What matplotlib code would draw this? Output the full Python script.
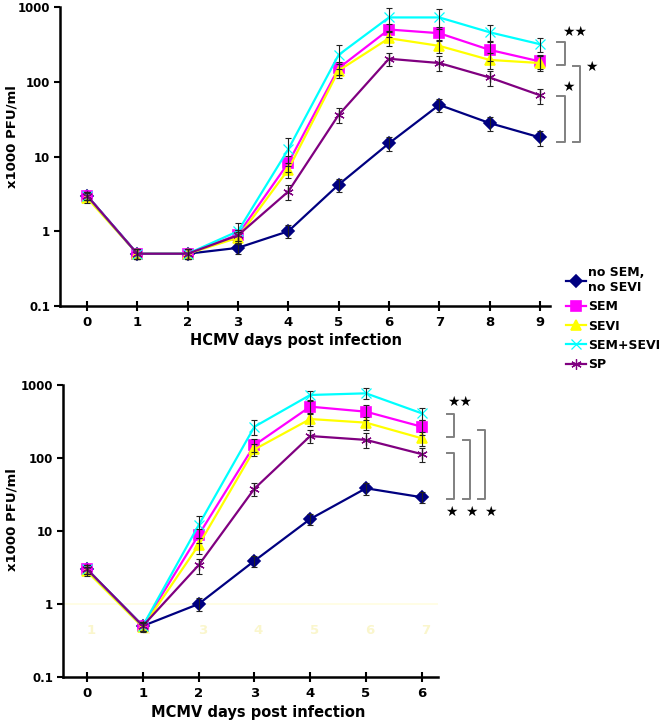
import matplotlib
matplotlib.use('Agg')
import matplotlib.pyplot as plt
from matplotlib.lines import Line2D

plt.rcParams['font.family'] = ['DejaVu Sans']
plt.rcParams['font.weight'] = 'bold'

# ---------------- data ----------------
series_names = ["no SEM,\nno SEVI", "SEM", "SEVI", "SEM+SEVI", "SP"]
colors = ['#000080', '#FF00FF', '#FFFF00', '#00FFFF', '#800080']
markers = ['D', 's', '^', 'x', (6, 2, 0)]
marker_sizes = [6, 6.5, 7.5, 6.5, 7.5]
marker_edge_widths = [1.2, 1.2, 1.2, 0.9, 0.9]

hcmv_days = [0, 1, 2, 3, 4, 5, 6, 7, 8, 9]
hcmv_no = [3.0, 0.5, 0.5, 0.6, 1.0, 4.2, 15, 49, 28, 18]
hcmv_sem = [3.0, 0.5, 0.5, 0.9, 8.2, 152, 500, 446, 267, 187]
hcmv_sevi = [2.8, 0.5, 0.5, 0.82, 6.7, 141, 382, 302, 196, 178]
hcmv_semsevi = [3.0, 0.5, 0.5, 1.0, 12.5, 229, 725, 725, 459, 318]
hcmv_sp = [3.0, 0.5, 0.5, 0.88, 3.4, 36, 203, 178, 114, 66]

hcmv_no_err = [0.4, 0.07, 0.07, 0.1, 0.2, 0.8, 3, 10, 6, 4]
hcmv_sem_err = [0.4, 0.07, 0.07, 0.15, 2, 30, 100, 100, 80, 40]
hcmv_sevi_err = [0.4, 0.07, 0.07, 0.15, 1.5, 30, 80, 60, 50, 40]
hcmv_semsevi_err = [0.4, 0.07, 0.07, 0.3, 5, 80, 250, 210, 120, 70]
hcmv_sp_err = [0.4, 0.07, 0.07, 0.15, 0.8, 8, 40, 40, 25, 15]

mcmv_days = [0, 1, 2, 3, 4, 5, 6]
mcmv_no = [3.0, 0.5, 1.0, 3.9, 14.6, 38.5, 29]
mcmv_sem = [3.0, 0.5, 8.8, 150, 505, 431, 268]
mcmv_sevi = [2.8, 0.48, 6.4, 131, 342, 305, 186]
mcmv_semsevi = [3.0, 0.5, 12, 268, 730, 769, 409]
mcmv_sp = [3.0, 0.5, 3.4, 38, 200, 177, 113]

mcmv_no_err = [0.4, 0.07, 0.2, 0.7, 2.5, 7, 5]
mcmv_sem_err = [0.4, 0.07, 2, 30, 100, 100, 60]
mcmv_sevi_err = [0.4, 0.07, 1.5, 25, 70, 60, 40]
mcmv_semsevi_err = [0.4, 0.07, 4, 60, 105, 130, 80]
mcmv_sp_err = [0.4, 0.07, 0.8, 8, 40, 40, 25]

y_ticks = [0.1, 1, 10, 100, 1000]
y_tick_labels = ['0.1', '1', '10', '100', '1000']
ylabel_text = 'x1000 PFU/ml'
hcmv_xlabel = 'HCMV days post infection'
mcmv_xlabel = 'MCMV days post infection'
ghost_labels = ['1', '2', '3', '4', '5', '6', '7']

W, H = 666, 725
fig = plt.figure(figsize=(W / 100, H / 100), dpi=100)


def px_axes(left, right, top, bottom):
    return fig.add_axes([left / W, 1 - bottom / H, (right - left) / W, (bottom - top) / H])


def style_axes(ax, days, xlim):
    ax.set_yscale('log')
    ax.set_ylim(0.1, 1000)
    ax.set_xlim(*xlim)
    ax.set_yticks(y_ticks)
    ax.set_yticklabels(y_tick_labels, fontsize=8.5, fontweight='bold')
    ax.minorticks_off()
    ax.set_xticks(days)
    ax.set_xticklabels([str(d) for d in days], fontsize=9.5, fontweight='bold')
    ax.tick_params(axis='x', direction='inout', length=7, width=1.5, pad=4)
    ax.tick_params(axis='y', direction='out', length=4, width=1.5, pad=3)
    for s in ['top', 'right']:
        ax.spines[s].set_visible(False)
    for s in ['left', 'bottom']:
        ax.spines[s].set_linewidth(1.8)
    ax.patch.set_alpha(0)


def draw_series(ax, days, vals, errs):
    for v, e, c, m, ms, mew in zip(vals, errs, colors, markers, marker_sizes,
                                   marker_edge_widths):
        ax.plot(days, v, color=c, marker=m, markersize=ms, linewidth=1.6,
                markeredgecolor=c, markeredgewidth=mew, zorder=2)
        ax.errorbar(days, v, yerr=e, fmt='none', ecolor='#222222',
                    elinewidth=0.8, capsize=2.5, capthick=0.8, zorder=3)


def bracket(ax, xv, xt, y1, y2):
    ax.plot([xt, xv, xv, xt], [y1, y1, y2, y2], color='#808080',
            linewidth=1.4, clip_on=False, zorder=4)


# ---------------- top: HCMV ----------------
ax1 = px_axes(60, 550, 7, 306)
style_axes(ax1, hcmv_days, (-0.536, 9.2))
draw_series(ax1, hcmv_days,
            [hcmv_no, hcmv_sem, hcmv_sevi, hcmv_semsevi, hcmv_sp],
            [hcmv_no_err, hcmv_sem_err, hcmv_sevi_err, hcmv_semsevi_err, hcmv_sp_err])
bracket(ax1, 9.5, 9.34, 336, 166)
bracket(ax1, 9.5, 9.34, 64.5, 15.5)
bracket(ax1, 9.8, 9.66, 161, 15.5)
ax1.text(9.68, 465, '★★', fontsize=10, ha='center', va='center', clip_on=False)
ax1.text(9.56, 86, '★', fontsize=10, ha='center', va='center', clip_on=False)
ax1.text(10.03, 158, '★', fontsize=10, ha='center', va='center', clip_on=False)
fig.text(295.5 / W, 1 - 340 / H, hcmv_xlabel, fontsize=10.5, fontweight='bold',
         ha='center', va='center')
fig.text(12 / W, 1 - 137 / H, ylabel_text, fontsize=9.5, fontweight='bold',
         rotation=90, ha='center', va='center')

# ---------------- bottom: MCMV ----------------
ax2 = px_axes(63, 438, 385, 677)
style_axes(ax2, mcmv_days, (-0.43, 6.29))
# faint ghost artefacts visible in the reference
ax2.axhline(1, color='#FFFDE0', linewidth=1.2, zorder=0)
for i, g in enumerate(ghost_labels):
    ax2.text(i + 0.07, 0.44, g, color='#FAF6CC', fontsize=9.5, ha='center',
             va='center', zorder=0)
draw_series(ax2, mcmv_days,
            [mcmv_no, mcmv_sem, mcmv_sevi, mcmv_semsevi, mcmv_sp],
            [mcmv_no_err, mcmv_sem_err, mcmv_sevi_err, mcmv_semsevi_err, mcmv_sp_err])
bracket(ax2, 6.58, 6.45, 398, 192)
bracket(ax2, 6.58, 6.45, 116, 27.5)
bracket(ax2, 6.86, 6.73, 177, 27.5)
bracket(ax2, 7.13, 7.0, 241, 27.5)
ax2.text(6.67, 590, '★★', fontsize=10, ha='center', va='center', clip_on=False)
for xs in [6.53, 6.89, 7.23]:
    ax2.text(xs, 18.4, '★', fontsize=10, ha='center', va='center', clip_on=False)
fig.text(258 / W, 1 - 713 / H, mcmv_xlabel, fontsize=10.5, fontweight='bold',
         ha='center', va='center')
fig.text(12 / W, 1 - 520 / H, ylabel_text, fontsize=9.5, fontweight='bold',
         rotation=90, ha='center', va='center')

# ---------------- legend ----------------
handles = [Line2D([0], [0], color=c, marker=m, markersize=ms, linewidth=1.6,
                  markeredgecolor=c, markeredgewidth=mew)
           for c, m, ms, mew in zip(colors, markers, marker_sizes, marker_edge_widths)]
fig.legend(handles, series_names, loc='upper left',
           bbox_to_anchor=(566 / W, 1 - 266 / H), frameon=False,
           prop={'size': 9, 'weight': 'bold'}, handlelength=1.6,
           handletextpad=0.2, labelspacing=0.5, borderpad=0, borderaxespad=0)

fig.savefig('out.png', dpi=100, facecolor='white')
